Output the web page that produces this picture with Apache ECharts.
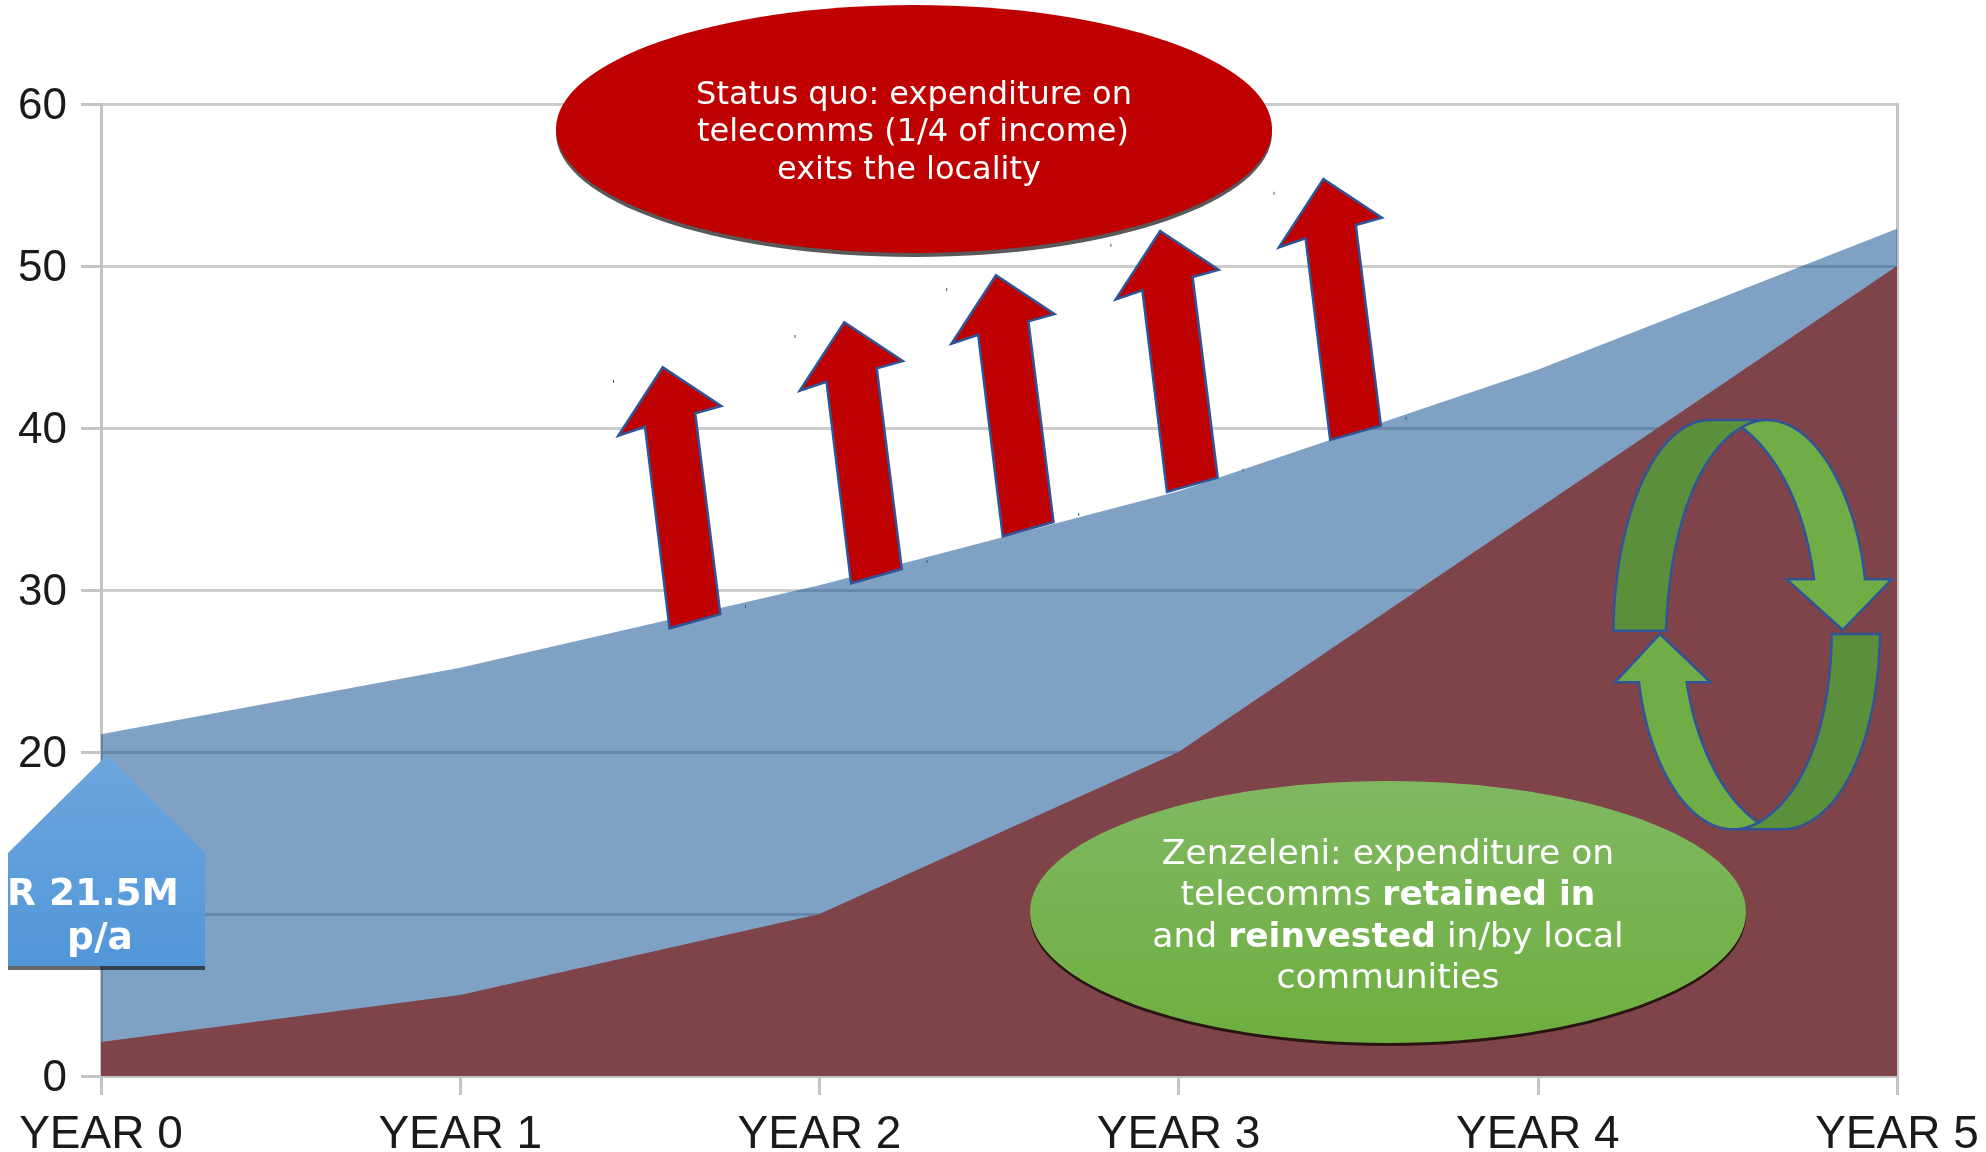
<!DOCTYPE html>
<html>
<head>
<meta charset="utf-8">
<style>html,body{margin:0;padding:0;background:#fff}#c{width:1986px;height:1152px}</style>
<script src="https://cdn.jsdelivr.net/npm/echarts@6/dist/echarts.min.js"></script>
</head>
<body>
<div id="c"></div>
<script>
const categories = ['YEAR 0','YEAR 1','YEAR 2','YEAR 3','YEAR 4','YEAR 5'];
const statusQuo = [21.1, 25.2, 30.3, 36.1, 43.6, 52.3];
const zenzeleni = [2.1, 5, 10, 20, 35, 50];

const DEJAVU = '"DejaVu Sans"';
const STROKE = '#2F5597';

// ---- annotation helpers ----
function bez(p0, c1, c2, p3, n) {
  n = n || 40;
  const out = [];
  for (let i = 0; i <= n; i++) {
    const t = i / n, u = 1 - t;
    out.push([
      u*u*u*p0[0] + 3*u*u*t*c1[0] + 3*u*t*t*c2[0] + t*t*t*p3[0],
      u*u*u*p0[1] + 3*u*u*t*c1[1] + 3*u*t*t*c2[1] + t*t*t*p3[1]
    ]);
  }
  return out;
}
const cy = p => [1560 + p[0] / 3, 380 + p[1] / 3];
const cyBez = (a, b, c, d, n) => bez(cy(a), cy(b), cy(c), cy(d), n);
function poly(points, fill, stroke, lw, z) {
  return { type: 'polygon', z: z || 10, shape: { points }, style: { fill, stroke: stroke || null, lineWidth: lw || 0, lineJoin: 'miter' } };
}
function dot(x, y) {
  return { type: 'rect', z: 9, shape: { x: x, y: y, width: 1, height: 3 }, style: { fill: STROKE } };
}

const arrowBase = [[662.8,367.3],[721.3,406],[695.2,413.3],[720.3,614],[669.6,628.3],[645,426.7],[618.3,435.7]];
const arrowShift = [[0,0],[181.5,-45],[333.2,-92],[497.4,-136.3],[660.6,-188.3]];

const graphics = [];

arrowShift.forEach(s => {
  graphics.push(poly(arrowBase.map(p => [p[0]+s[0], p[1]+s[1]]), '#BE0000', STROKE, 2.5));
  graphics.push(dot(613+s[0], 380+s[1]));
  graphics.push(dot(745+s[0], 605+s[1]));
});
graphics.push(dot(1612, 828), dot(1896, 418));

// red ellipse
graphics.push({ type:'ellipse', z:11, shape:{cx:914,cy:133,rx:358,ry:124}, style:{fill:'#595959'} });
graphics.push({ type:'ellipse', z:12, shape:{cx:914,cy:129,rx:358,ry:124}, style:{fill:'#BE0000'} });
[['Status quo: expenditure on',914,96],['telecomms (1/4 of income)',913,133],['exits the locality',909,171]].forEach(l => {
  graphics.push({ type:'text', z:13, x:l[1], y:l[2], style:{ text:l[0], fill:'#fff', font:'32px '+DEJAVU, align:'center', verticalAlign:'middle' } });
});

// green ellipse
graphics.push({ type:'ellipse', z:11, shape:{cx:1388,cy:915,rx:358,ry:131}, style:{fill:'#2A1414'} });
graphics.push({ type:'ellipse', z:12, shape:{cx:1388,cy:912,rx:358,ry:131}, style:{
  fill:{ type:'linear', x:0,y:0,x2:0,y2:1, colorStops:[{offset:0,color:'#80B862'},{offset:1,color:'#6EAF3F'}] } } });
const richG = {
  n:{ fill:'#fff', font:'34.5px '+DEJAVU },
  b:{ fill:'#fff', font:'bold 34.5px '+DEJAVU }
};
[['{n|Zenzeleni: expenditure on}',1388,855],['{n|telecomms }{b|retained in}',1388,896],['{n|and }{b|reinvested}{n| in/by local}',1388,938],['{n|communities}',1388,979]].forEach(l => {
  graphics.push({ type:'text', z:13, x:l[1], y:l[2], style:{ text:l[0], rich:richG, align:'center', verticalAlign:'middle' } });
});

// pentagon
graphics.push(poly([[107,758],[205,856],[205,970],[8,970],[8,856]], 'rgba(0,0,0,0.6)', null, 0, 11));
graphics.push(poly([[107,755],[205,853],[205,966],[8,966],[8,853]],
  { type:'linear', x:0,y:0,x2:0,y2:1, colorStops:[{offset:0,color:'#6EA5DD'},{offset:1,color:'#5197D9'}] }, null, 0, 12));
graphics.push({ type:'text', z:13, x:93, y:895, style:{ text:'R 21.5M', fill:'#fff', font:'bold 37.5px '+DEJAVU, align:'center', verticalAlign:'middle' } });
graphics.push({ type:'text', z:13, x:100, y:939, style:{ text:'p/a', fill:'#fff', font:'bold 37.5px '+DEJAVU, align:'center', verticalAlign:'middle' } });

// cycle arrows
const DG = '#5C8F3B', LG = '#70AD47';
graphics.push(poly([
  ...cyBez([160,752],[165,400],[290,120],[450,120]),
  cy([620,120]),
  ...cyBez([620,120],[595,120],[570,128],[545,142],10),
  ...cyBez([545,142],[420,215],[330,430],[318,752])
], DG, STROKE, 2.5));
graphics.push(poly([
  ...cyBez([545,142],[570,128],[595,120],[620,120],10),
  ...cyBez([620,120],[770,120],[890,350],[915,598]),
  cy([995,598]), cy([848,750]), cy([680,598]), cy([762,598]),
  ...cyBez([762,598],[735,380],[650,220],[545,142])
], LG, STROKE, 2.5, 11));
graphics.push(poly([
  cy([815,762]), cy([960,762]),
  ...cyBez([960,762],[955,1100],[830,1348],[665,1348]),
  cy([520,1348]),
  ...cyBez([520,1348],[545,1348],[570,1340],[595,1328],10),
  ...cyBez([595,1328],[730,1250],[812,1040],[815,762])
], DG, STROKE, 2.5));
graphics.push(poly([
  cy([300,762]), cy([452,907]), cy([380,907]),
  ...cyBez([380,907],[410,1100],[490,1255],[595,1328]),
  ...cyBez([595,1328],[570,1340],[545,1348],[520,1348],10),
  ...cyBez([520,1348],[380,1348],[265,1150],[237,907]),
  cy([165,907])
], LG, STROKE, 2.5, 11));

const chart = echarts.init(document.getElementById('c'), null, { renderer: 'canvas' });
const axisGrey = '#C4C4C4';
chart.setOption({
  animation: false,
  backgroundColor: '#fff',
  grid: { left: 101, right: 89, top: 104, bottom: 76, containLabel: false, outerBoundsMode: 'none' },
  xAxis: {
    type: 'category',
    data: categories,
    boundaryGap: false,
    axisLine: { show: true, lineStyle: { color: axisGrey, width: 3 } },
    axisTick: { show: true, length: 19, lineStyle: { color: axisGrey, width: 3 } },
    splitLine: { show: false },
    axisLabel: { show: true, interval: 0, color: '#1a1a1a', fontFamily: '"Liberation Sans"', fontSize: 46, margin: 36, hideOverlap: false, alignMinLabel: 'center', alignMaxLabel: 'center' }
  },
  yAxis: [{
    type: 'value', min: 0, max: 60, interval: 10,
    axisLine: { show: true, lineStyle: { color: axisGrey, width: 3 } },
    axisTick: { show: true, length: 20, lineStyle: { color: axisGrey, width: 3 } },
    splitLine: { show: true, lineStyle: { color: '#CCCCCC', width: 3 } },
    axisLabel: {
      color: '#1a1a1a', fontFamily: '"Liberation Sans"', fontSize: 44, margin: 34,
      formatter: v => v === 10 ? '' : '{v|' + v + '}',
      rich: { v: { color: '#1a1a1a', fontFamily: '"Liberation Sans"', fontSize: 44, padding: [6, 0, 0, 0] } }
    }
  }, {
    type: 'value', min: 0, max: 60, interval: 10, position: 'right',
    axisLine: { show: true, lineStyle: { color: axisGrey, width: 3 } },
    axisTick: { show: false }, splitLine: { show: false }, axisLabel: { show: false }
  }],
  series: [{
    name: 'Status quo', type: 'line', data: statusQuo, showSymbol: false, symbol: 'none',
    lineStyle: { width: 0 }, z: 2,
    areaStyle: { color: '#004387', opacity: 0.5 }
  }, {
    name: 'Zenzeleni', type: 'line', data: zenzeleni, showSymbol: false, symbol: 'none',
    lineStyle: { width: 0 }, z: 3,
    areaStyle: { color: '#7F444A', opacity: 1 }
  }],
  graphic: { elements: graphics }
});
</script>
</body>
</html>
